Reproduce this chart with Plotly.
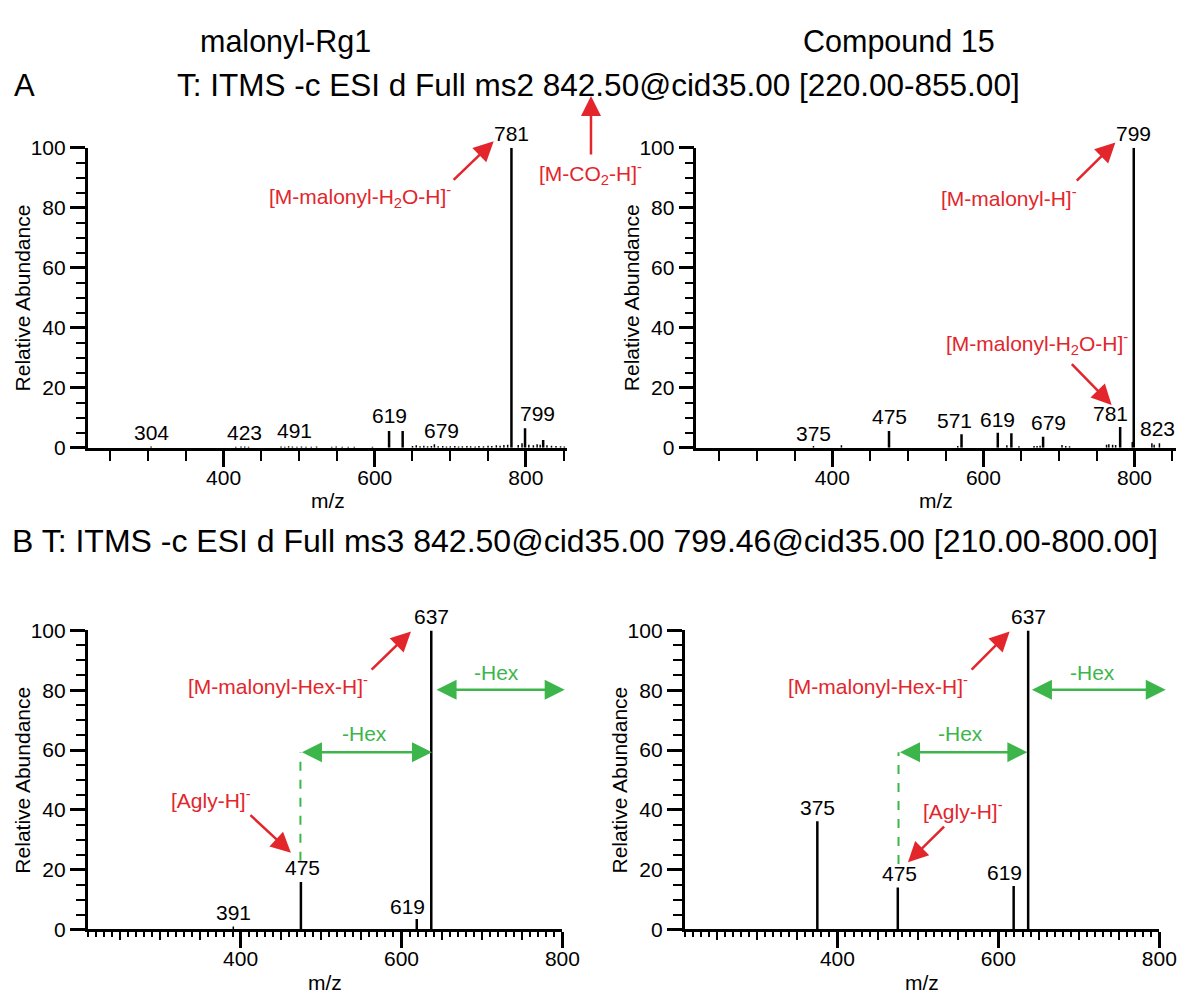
import plotly.graph_objects as go

W, H = 1198, 1003

# ---------------- data ----------------
# Panel A left: malonyl-Rg1, MS2 of 842.50
a1_mz = [304, 416, 423, 428, 433, 476, 481, 486, 491, 497, 503, 509, 516, 523,
         543, 549, 557, 565, 573, 597, 619, 637,
         650, 655, 660, 665, 670, 675, 679, 684, 690, 695, 700, 706, 711, 716, 722, 727,
         733, 738, 744, 750, 755, 761, 766, 771, 776, 781,
         790, 795, 799, 804, 810, 815, 819, 823, 828, 834, 840, 846, 851]
a1_int = [0.4, 0.3, 0.4, 0.4, 0.3, 0.4, 0.3, 0.5, 0.4, 0.3, 0.4, 0.3, 0.3, 0.4,
          0.3, 0.4, 0.3, 0.3, 0.3, 0.3, 5.6, 5.6,
          0.6, 0.8, 0.5, 0.7, 0.5, 0.6, 1.2, 0.5, 0.6, 0.4, 0.5, 0.6, 0.4, 0.5, 0.6, 0.5,
          0.4, 0.6, 0.5, 0.7, 0.6, 0.8, 0.7, 0.9, 1.0, 100,
          0.9, 1.5, 6.5, 1.0, 0.8, 1.2, 1.0, 2.6, 0.8, 0.7, 0.6, 0.5, 0.4]
a1_lbl = ["304", "423", "491", "619", "679", "781", "799"]
a1_lbl_x = [304, 428, 494, 620, 688, 781, 816]
a1_lbl_y = [2.0, 2.0, 2.7, 7.5, 2.7, 101.6, 8.1]

# Panel A right: Compound 15, MS2 of 842.50
a2_mz = [375, 412, 475, 566, 571, 619, 631, 637, 647, 667, 671, 675, 679,
         704, 709, 714, 763, 766, 771, 775, 781, 797, 799, 823, 826, 833]
a2_int = [0.6, 0.8, 5.6, 0.6, 4.5, 5.0, 0.8, 4.8, 0.5, 0.6, 0.6, 0.7, 3.7,
          0.9, 0.6, 0.5, 1.0, 1.2, 1.0, 0.9, 6.9, 1.9, 100, 1.5, 1.0, 1.5]
a2_lbl = ["375", "475", "571", "619", "679", "781", "799", "823"]
a2_lbl_x = [375, 475, 562, 619, 686, 768, 799, 831]
a2_lbl_y = [1.6, 7.2, 5.9, 6.4, 5.3, 8.1, 101.6, 3.1]

# Panel B left: malonyl-Rg1, MS3 842.50 -> 799.46
b1_mz = [391, 475, 619, 637]
b1_int = [1.0, 15.9, 3.5, 100]
b1_lbl = ["391", "475", "619", "637"]
b1_lbl_x = [391, 477, 608, 637]
b1_lbl_y = [2.4, 17.6, 4.6, 101.6]

# Panel B right: Compound 15, MS3 842.50 -> 799.46
b2_mz = [375, 475, 619, 637]
b2_int = [36.2, 14.0, 14.5, 100]
b2_lbl = ["375", "475", "619", "637"]
b2_lbl_x = [375, 477, 607, 638]
b2_lbl_y = [37.6, 15.4, 16.0, 101.6]

# ---------------- style ----------------
FONT = "Liberation Sans, Arial, Helvetica, sans-serif"
RED = "#e2262c"
GREEN = "#3cb64a"
FS = 21
PX_PER_UNIT = 3.07  # vertical pixels per % abundance (307 px plot height)

fig = go.Figure()


def sticks(mz, it, keep):
    xs, ys = [], []
    for m, v in zip(mz, it):
        if keep(v):
            xs += [m, m, None]
            ys += [0, v, None]
    return xs, ys


def add_spectrum(mz, it, xa, ya):
    xs, ys = sticks(mz, it, lambda v: v >= 2)
    fig.add_trace(go.Scatter(x=xs, y=ys, mode="lines", xaxis=xa, yaxis=ya,
                             line=dict(color="black", width=2.5), hoverinfo="skip",
                             showlegend=False, cliponaxis=False))
    xs, ys = sticks(mz, it, lambda v: v < 2)
    fig.add_trace(go.Scatter(x=xs, y=ys, mode="lines", xaxis=xa, yaxis=ya,
                             line=dict(color="black", width=1.5), hoverinfo="skip",
                             showlegend=False))


add_spectrum(a1_mz, a1_int, "x", "y")
add_spectrum(a2_mz, a2_int, "x2", "y2")
add_spectrum(b1_mz, b1_int, "x3", "y3")
add_spectrum(b2_mz, b2_int, "x4", "y4")
# invisible traces registering the overlay axes used for the mid-length ticks
fig.add_trace(go.Scatter(x=[210], y=[0], mode="markers", marker=dict(opacity=0),
                         xaxis="x5", yaxis="y3", showlegend=False, hoverinfo="skip"))
fig.add_trace(go.Scatter(x=[210], y=[0], mode="markers", marker=dict(opacity=0),
                         xaxis="x6", yaxis="y4", showlegend=False, hoverinfo="skip"))

annotations = []
shapes = []


def peak_labels(texts, xs, ys, xr, yr):
    for t, x, y in zip(texts, xs, ys):
        yy = min(y, 100)
        annotations.append(dict(text=t, x=x, y=yy, xref=xr, yref=yr, showarrow=False,
                                xanchor="center", yanchor="bottom",
                                yshift=-4 + (y - yy) * PX_PER_UNIT,
                                font=dict(size=FS, color="black", family=FONT)))


def txt(t, x, y, xr, yr, color):
    annotations.append(dict(text=t, x=x, y=y, xref=xr, yref=yr, showarrow=False,
                            xanchor="center", yanchor="middle",
                            font=dict(size=FS, color=color, family=FONT)))


def arrow(x0, y0, x1, y1, xr, yr, color, both=False):
    annotations.append(dict(text="", x=x1, y=y1, ax=x0, ay=y0, xref=xr, yref=yr,
                            axref=xr, ayref=yr, showarrow=True, arrowhead=2,
                            arrowsize=1.6, arrowwidth=2.5, arrowcolor=color,
                            arrowside="end+start" if both else "end",
                            startarrowhead=2, startarrowsize=1.6))


peak_labels(a1_lbl, a1_lbl_x, a1_lbl_y, "x", "y")
peak_labels(a2_lbl, a2_lbl_x, a2_lbl_y, "x2", "y2")
peak_labels(b1_lbl, b1_lbl_x, b1_lbl_y, "x3", "y3")
peak_labels(b2_lbl, b2_lbl_x, b2_lbl_y, "x4", "y4")

# Panel A left
txt("[M-malonyl-H<sub>2</sub>O-H]<sup>-</sup>", 581, 83.7, "x", "y", RED)
arrow(702.5, 88.8, 757.5, 102.2, "x", "y", RED)
# Panel A right
txt("[M-malonyl-H]<sup>-</sup>", 634, 83.7, "x2", "y2", RED)
arrow(721.6, 88.6, 774.7, 101.8, "x2", "y2", RED)
txt("[M-malonyl-H<sub>2</sub>O-H]<sup>-</sup>", 670.5, 34.9, "x2", "y2", RED)
arrow(715.1, 28.4, 769.7, 14.3, "x2", "y2", RED)
# Panel B left
txt("[M-malonyl-Hex-H]<sup>-</sup>", 447, 81.6, "x3", "y3", RED)
arrow(561, 86.4, 611.8, 99.7, "x3", "y3", RED)
txt("-Hex", 718.5, 85.9, "x3", "y3", GREEN)
arrow(641.7, 80.2, 802.8, 80.2, "x3", "y3", GREEN, both=True)
txt("-Hex", 553.6, 65.6, "x3", "y3", GREEN)
arrow(474.4, 59.3, 637.9, 59.3, "x3", "y3", GREEN, both=True)
txt("[Agly-H]<sup>-</sup>", 363, 43.6, "x3", "y3", RED)
arrow(410.4, 38.7, 462.6, 25.7, "x3", "y3", RED)
shapes.append(dict(type="line", xref="x3", yref="y3", x0=474.4, x1=474.4, y0=23, y1=59.3,
                   line=dict(color=GREEN, width=2, dash="dash")))
# Panel B right
txt("[M-malonyl-Hex-H]<sup>-</sup>", 451, 81.6, "x4", "y4", RED)
arrow(564.9, 86.4, 614, 99.7, "x4", "y4", RED)
txt("-Hex", 717, 85.9, "x4", "y4", GREEN)
arrow(639.8, 80.2, 808, 80.2, "x4", "y4", GREEN, both=True)
txt("-Hex", 553.2, 65.6, "x4", "y4", GREEN)
arrow(475.9, 59.3, 636, 59.3, "x4", "y4", GREEN, both=True)
txt("[Agly-H]<sup>-</sup>", 555.5, 40, "x4", "y4", RED)
arrow(534.4, 34.9, 487.6, 22.5, "x4", "y4", RED)
shapes.append(dict(type="line", xref="x4", yref="y4", x0=475.9, x1=475.9, y0=21.9, y1=59.3,
                   line=dict(color=GREEN, width=2, dash="dash")))


# Headings (paper coordinates)
def ptxt(t, px, py, size, anchor="center", color="black"):
    annotations.append(dict(text=t, x=px / W, y=1 - py / H, xref="paper", yref="paper",
                            showarrow=False, xanchor=anchor, yanchor="middle",
                            font=dict(size=size, color=color, family=FONT)))


ptxt("malonyl-Rg1", 290, 30, 30.5)
ptxt("Compound 15", 913, 30, 30.5)
ptxt("A", 12, 75, 31, "left")
ptxt("T: ITMS -c ESI d Full ms2 842.50@cid35.00 [220.00-855.00]", 608, 75, 31.5)
ptxt("B T: ITMS -c ESI d Full ms3 842.50@cid35.00 799.46@cid35.00 [210.00-800.00]",
     10, 541, 32, "left")
ptxt("[M-CO<sub>2</sub>-H]<sup>-</sup>", 599, 165, FS, color=RED)
annotations.append(dict(text="", x=600 / W, y=1 - 86 / H, xref="paper", yref="paper",
                        ax=0, ay=60, showarrow=True, arrowhead=2, arrowsize=1.6,
                        arrowwidth=2.5, arrowcolor=RED))

# axis titles
for (ax_x, cy) in [(89, 292.5), (707, 292.5), (89, 786), (695, 786)]:
    annotations.append(dict(text="Relative Abundance", x=(ax_x - 66) / W, y=1 - cy / H,
                            xref="paper", yref="paper", showarrow=False, textangle=-90,
                            xanchor="center", yanchor="middle",
                            font=dict(size=FS, color="black", family=FONT)))
for (cx, cy) in [(333, 500), (950, 500), (330, 993), (936, 993)]:
    ptxt("m/z", cx, cy, FS)


# ---------------- axes ----------------
def xax(px0, px1, rng, minor_dtick, minor_len):
    return dict(domain=[px0 / W, px1 / W], range=rng, showline=True, linecolor="black",
                linewidth=2.5, showgrid=False, zeroline=False, ticks="outside",
                tickmode="array", tickvals=[400, 600, 800], ticklen=16, tickwidth=2.5,
                tickcolor="black", ticklabelstandoff=-7,
                tickfont=dict(size=FS, color="black", family=FONT),
                minor=dict(tickmode="linear", tick0=0, dtick=minor_dtick, ticklen=minor_len,
                           tickwidth=2, tickcolor="black", ticks="outside", showgrid=False))


def yax(py0, py1, anchor):
    return dict(domain=[1 - py1 / H, 1 - py0 / H], range=[0, 100], anchor=anchor,
                showline=True, linecolor="black", linewidth=2.5, showgrid=False,
                zeroline=False, ticks="outside", tickmode="linear", tick0=0, dtick=20,
                ticklen=15, tickwidth=2.5, tickcolor="black",
                tickfont=dict(size=FS, color="black", family=FONT),
                minor=dict(tickmode="linear", tick0=0, dtick=5, ticklen=9, tickwidth=2,
                           tickcolor="black", ticks="outside", showgrid=False))


mid_ticks = [250, 300, 350, 450, 500, 550, 650, 700, 750]

layout = dict(
    width=W, height=H, margin=dict(l=0, r=0, t=0, b=0), autosize=False,
    paper_bgcolor="white", plot_bgcolor="white", showlegend=False,
    font=dict(family=FONT, color="black"),
    xaxis=dict(xax(89, 576, [220, 855], 50, 10), anchor="y"),
    yaxis=yax(139, 446, "x"),
    xaxis2=dict(xax(707, 1194, [220, 855], 50, 10), anchor="y2"),
    yaxis2=yax(139, 446, "x2"),
    xaxis3=dict(xax(89, 571, [210, 800], 10, 5), anchor="y3"),
    yaxis3=yax(633, 939, "x3"),
    xaxis4=dict(xax(695, 1177, [210, 800], 10, 5), anchor="y4"),
    yaxis4=yax(633, 939, "x4"),
    xaxis5=dict(overlaying="x3", anchor="y3", range=[210, 800], tickmode="array",
                tickvals=mid_ticks, ticks="outside", ticklen=10, tickwidth=2,
                tickcolor="black", showticklabels=False, showline=False, showgrid=False,
                zeroline=False),
    xaxis6=dict(overlaying="x4", anchor="y4", range=[210, 800], tickmode="array",
                tickvals=mid_ticks, ticks="outside", ticklen=10, tickwidth=2,
                tickcolor="black", showticklabels=False, showline=False, showgrid=False,
                zeroline=False),
    annotations=annotations,
    shapes=shapes,
)
fig.update_layout(**layout)
fig.write_html("out.html")
